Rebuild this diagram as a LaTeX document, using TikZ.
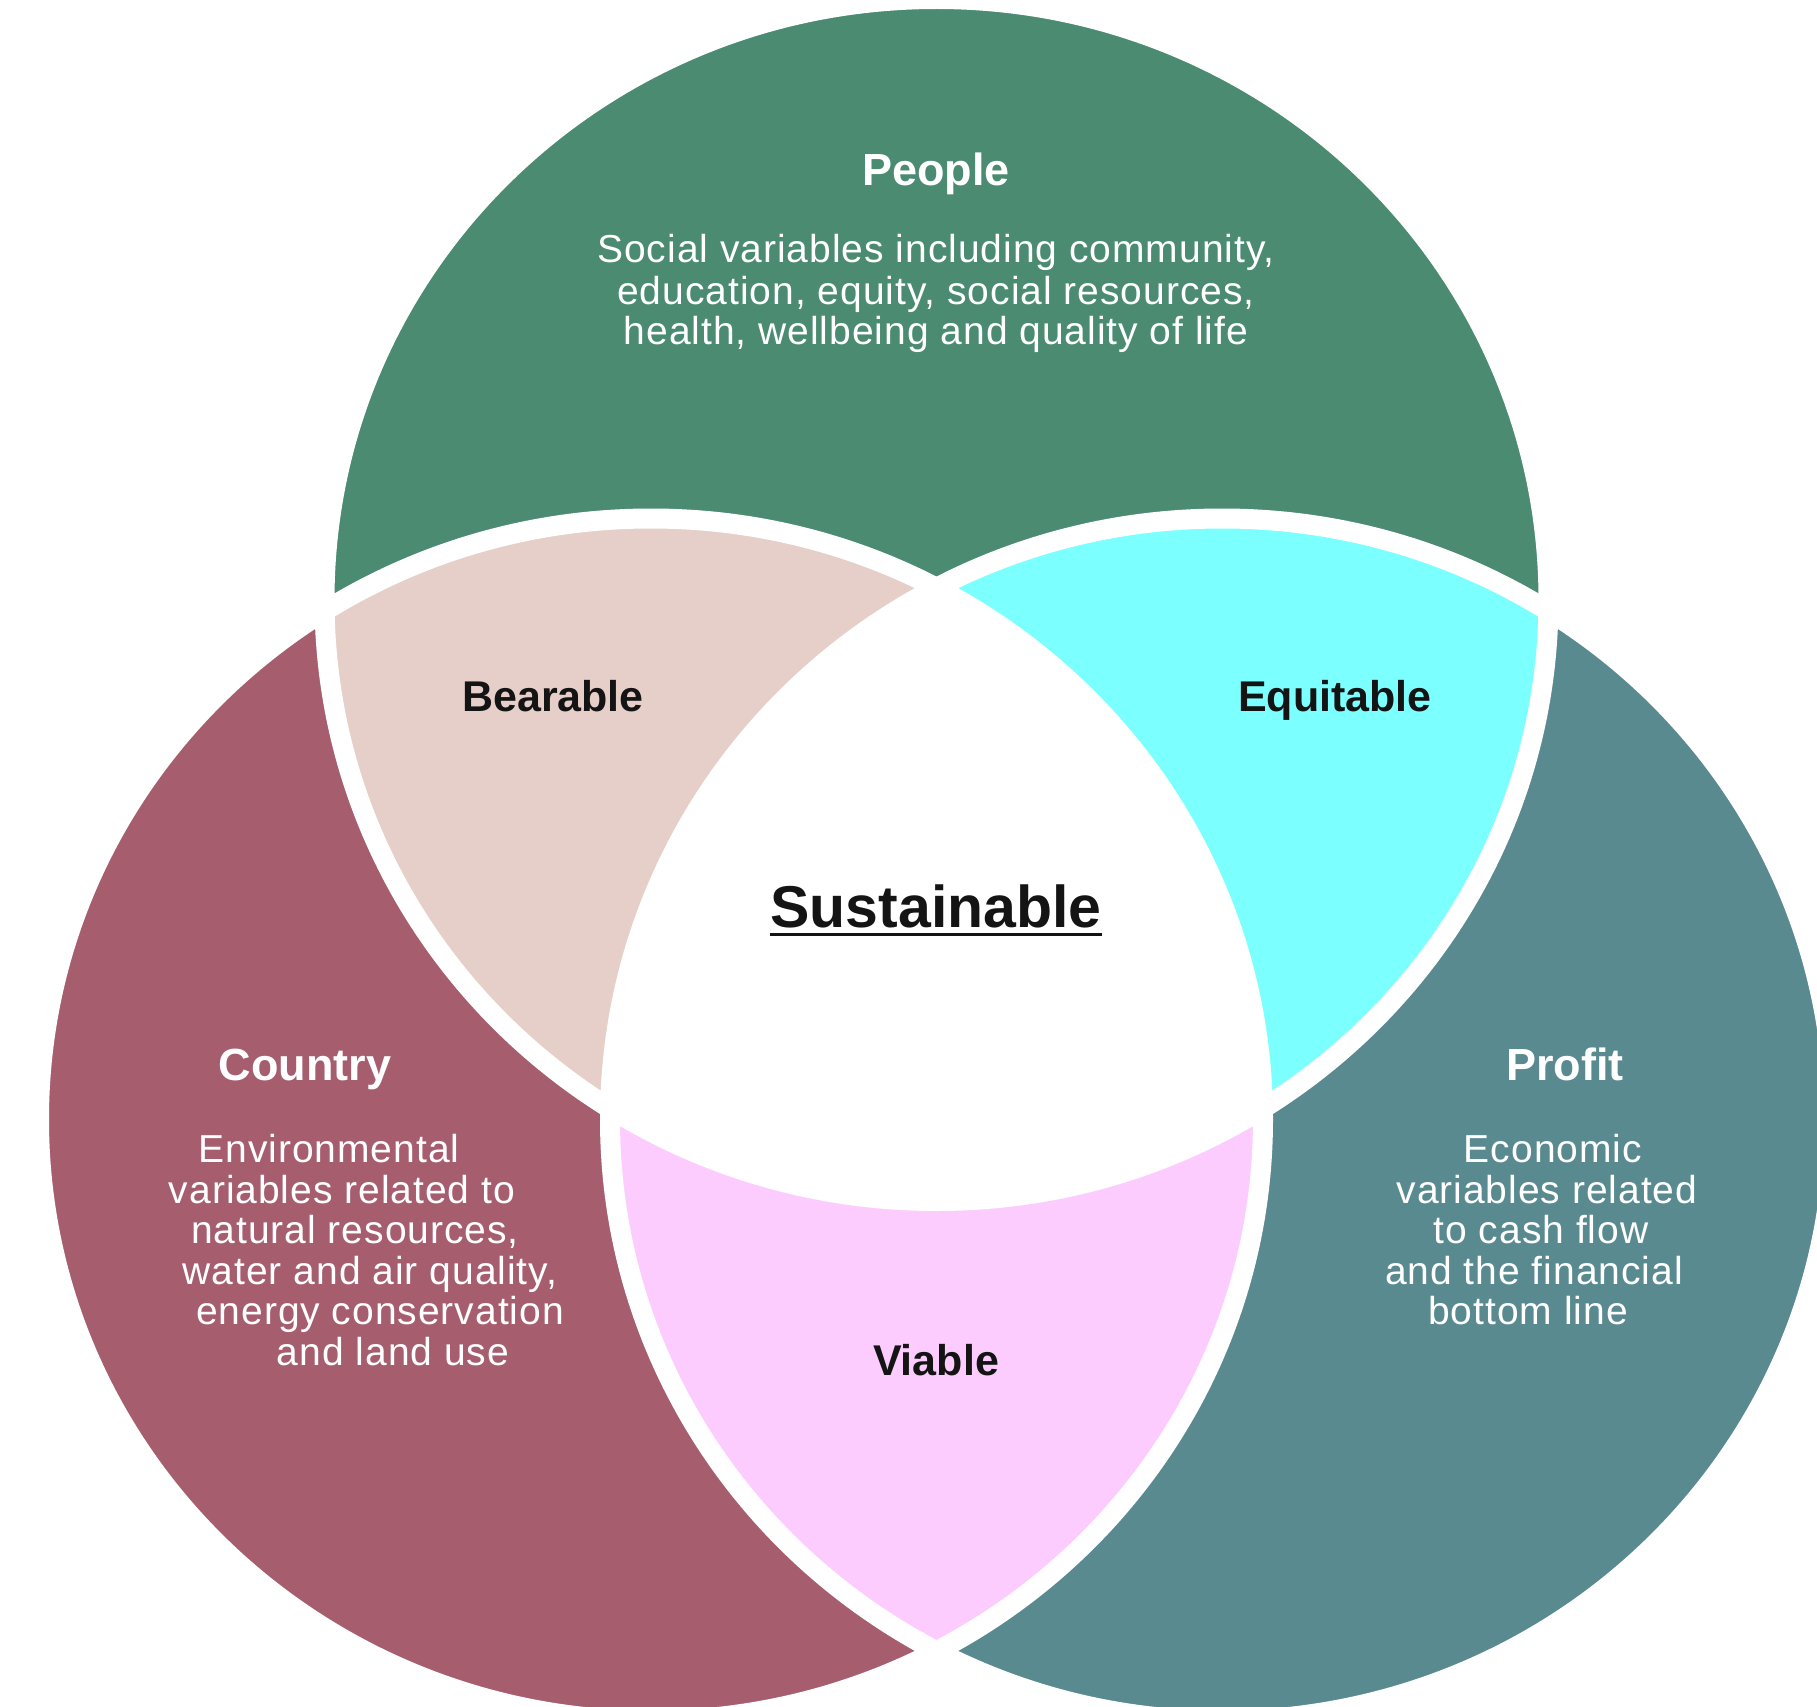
\documentclass[tikz,border=0pt]{standalone}
\usepackage{fontspec}
\setmainfont{Liberation Sans}
\newfontfamily\descfont{Liberation Sans}[LetterSpace=2.5]
\usepackage{tikz}

\definecolor{peoplegreen}{RGB}{74,139,113}
\definecolor{countryred}{RGB}{166,94,111}
\definecolor{profitteal}{RGB}{89,138,144}
\definecolor{bearablepink}{RGB}{230,207,200}
\definecolor{equitablecyan}{RGB}{123,255,255}
\definecolor{viablepink}{RGB}{252,204,254}
\definecolor{labelblack}{RGB}{20,20,20}

\begin{document}
\begin{tikzpicture}[x=0.5pt,y=0.5pt,yscale=-1,xscale=1,
  title/.style={font=\bfseries\fontsize{22.5}{26}\selectfont, text=white, anchor=base, inner sep=0pt},
  overlap/.style={font=\bfseries\fontsize{21.5}{25}\selectfont, text=labelblack, anchor=base, inner sep=0pt},
  desc/.style={font=\descfont\fontsize{19.5}{22}\selectfont, text=white, anchor=base, inner sep=0pt},
  rim/.style={draw=white, line width=10pt}]
\useasboundingbox (0,0) rectangle (1817,1707);
\clip (0,0) rectangle (1817,1707);
\coordinate (cPeople) at (936.5,600);
\coordinate (cCountry) at (651,1119.5);
\coordinate (cProfit) at (1222,1119.5);
% the three sets
\fill[countryred] (cCountry) ellipse (612 and 601);
\fill[profitteal] (cProfit) ellipse (612 and 601);
\fill[peoplegreen] (cPeople) ellipse (612 and 601);
% overlaps
\begin{scope}
\clip (cPeople) ellipse (612 and 601);
\fill[bearablepink] (cCountry) ellipse (612 and 601);
\fill[equitablecyan] (cProfit) ellipse (612 and 601);
\end{scope}
\begin{scope}
\clip (cCountry) ellipse (612 and 601);
\fill[viablepink] (cProfit) ellipse (612 and 601);
\clip (cProfit) ellipse (612 and 601);
\fill[white] (cPeople) ellipse (612 and 601);
\end{scope}
% white rims
\draw[rim] (cCountry) ellipse (612 and 601);
\draw[rim] (cProfit) ellipse (612 and 601);
\draw[rim] (cPeople) ellipse (612 and 601);

% People
\node[title] (people) at (936,185) {People};
\node[desc] (soc1) at (936,263) {Social variables including community,};
\node[desc] (soc2) at (936,304) {education, equity, social resources,};
\node[desc] (soc3) at (936,344) {health, wellbeing and quality of life};
% Country
\node[title] (country) at (305,1080) {Country};
\node[desc] (env1) at (329,1162) {Environmental};
\node[desc] (env2) at (342,1203) {variables related to};
\node[desc] (env3) at (355,1243) {natural resources,};
\node[desc] (env4) at (370,1284) {water and air quality,};
\node[desc] (env5) at (380,1324) {energy conservation};
\node[desc] (env6) at (393,1365) {and land use};
% Profit
\node[title] (profit) at (1565,1080) {Profit};
\node[desc] (eco1) at (1553,1162) {Economic};
\node[desc] (eco2) at (1547,1203) {variables related};
\node[desc] (eco3) at (1541,1243) {to cash flow};
\node[desc] (eco4) at (1534,1284) {and the financial};
\node[desc] (eco5) at (1528,1324) {bottom line};
% overlaps
\node[overlap] (bearable) at (553,711) {Bearable};
\node[overlap] (equitable) at (1335,711) {Equitable};
\node[overlap] (viable) at (936,1375) {Viable};
\node[overlap, font=\bfseries\fontsize{29.5}{34}\selectfont] (sust) at (936,927) {Sustainable};
\draw[labelblack, line width=1.75pt] ([yshift=3.75pt]sust.base west) -- ([yshift=3.75pt]sust.base east);
\end{tikzpicture}
\end{document}
